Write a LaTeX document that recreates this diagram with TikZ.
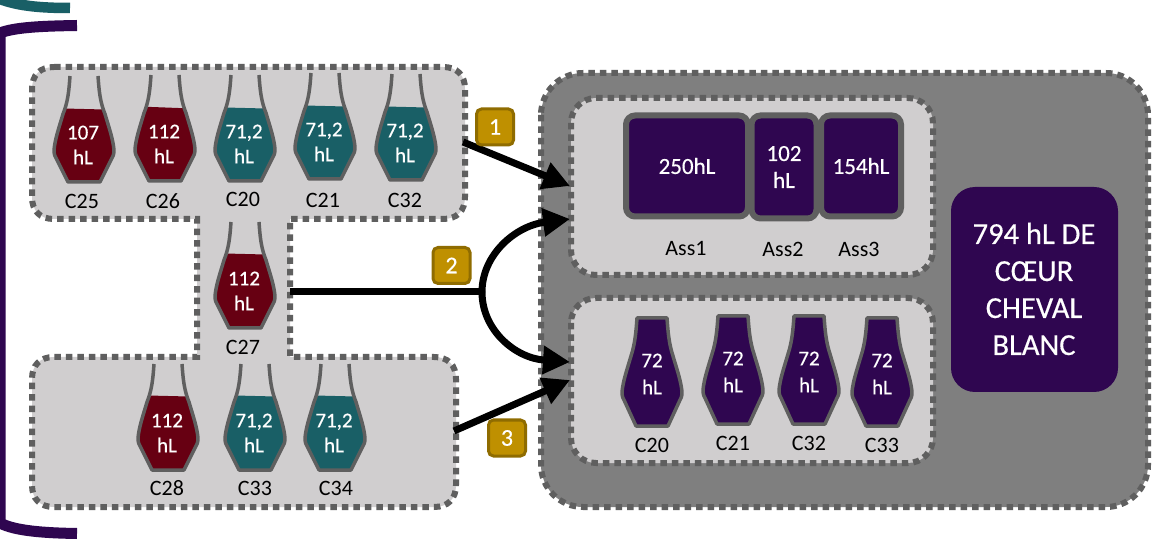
\documentclass[tikz,border=0pt]{standalone}
\usepackage{fontspec}
\setmainfont{Carlito}
\newfontfamily\whitefont[FakeBold=0.4]{Carlito}
\usetikzlibrary{arrows.meta}
\definecolor{wine}{HTML}{670012}
\definecolor{tealw}{HTML}{195F66}
\definecolor{plum}{HTML}{2F0650}
\definecolor{edge}{HTML}{5F5F5F}
\definecolor{panel}{HTML}{D0CECF}
\definecolor{dark}{HTML}{7F7F7F}
\definecolor{gold}{HTML}{BF9000}
\definecolor{goldedge}{HTML}{8F6C00}
\tikzset{
  dotline/.style={draw=edge,line width=6pt,dash pattern=on 6.5pt off 5pt},
  vasetext/.style={text=white,font=\whitefont\fontsize{21}{25}\selectfont,align=center,inner sep=0pt},
  fulltext/.style={text=white,font=\whitefont\fontsize{21}{27}\selectfont,align=center,inner sep=0pt},
  caption/.style={text=black,font=\fontsize{22}{24}\selectfont,inner sep=0pt},
  bigtext/.style={text=white,font=\whitefont\fontsize{30.5}{37}\selectfont,align=center,inner sep=0pt},
  badge/.style={draw=goldedge,fill=gold,line width=3pt,rounded corners=5pt,text=white,
    minimum width=37pt,minimum height=36pt,inner sep=0pt,font=\whitefont\fontsize{24}{26}\selectfont},
  tank/.style={draw=edge,fill=plum,line width=6pt,rounded corners=9pt,text=white,
    inner sep=0pt,align=center,font=\whitefont\fontsize{23}{27}\selectfont},
  bigarrow/.style={line width=7pt,draw=black,-{Triangle[length=27pt,width=27pt]}},
  vesselline/.style={draw=edge,line width=3.5pt,line join=round}
}
\newcommand{\vesselbody}{(-14,0) .. controls (-15,14) and (-16,26) .. (-21,38)
   .. controls (-24.5,50) and (-28,60) .. (-29.5,70) .. controls (-30.5,75) and (-30,79) .. (-28,82)
   -- (-16,106) -- (16,106) -- (28,82) .. controls (30,79) and (30.5,75) .. (29.5,70)
   .. controls (28,60) and (24.5,50) .. (21,38) .. controls (16,26) and (15,14) .. (14,0)}
% open vessel: #1 cx, #2 top y, #3 colour, #4 left level, #5 right level, #6 name, #7 number, #8 caption, #9 caption position
\newcommand{\openvessel}[9]{%
  \begin{scope}[shift={(#1,#2)}]
    \begin{scope}
      \clip (-40,#4) -- (40,#5) -- (40,120) -- (-40,120) -- cycle;
      \fill[#3] \vesselbody -- cycle;
    \end{scope}
    \draw[vesselline] \vesselbody;
    \node[vasetext] (#6t) at (-1,69) {#7\\hL};
  \end{scope}
  \node[caption] (#6c) at (#9) {#8};
}
% closed vessel: #1 cx, #2 top y, #3 name, #4 caption, #5 caption y
\newcommand{\fullvessel}[5]{%
  \begin{scope}[shift={(#1,#2)}]
    \draw[vesselline,fill=plum] (-15,0) -- (15,0) .. controls (16,14) and (17,26) .. (21,38)
      .. controls (24.5,50) and (28,60) .. (29.5,70) .. controls (30.5,75) and (30,79) .. (28,82)
      -- (16,108) -- (-16,108) -- (-28,82) .. controls (-30,79) and (-30.5,75) .. (-29.5,70)
      .. controls (-28,60) and (-24.5,50) .. (-21,38) .. controls (-17,26) and (-16,14) .. (-15,0) -- cycle;
    \node[fulltext] (#3t) at (0,56) {72\\hL};
  \end{scope}
  \node[caption] (#3c) at (#1,#5) {#4};
}
\begin{document}
\begin{tikzpicture}[x=1pt,y=-1pt]
\clip (0,0) rectangle (1152,553);
\fill[white] (0,0) rectangle (1152,553);
% brackets
\draw[tealw,line width=10.5pt] (-5,-3) .. controls (15,6) and (40,8) .. (70,8);
\draw[plum,line width=11pt] (77,25.5) .. controls (45,26) and (15,27) .. (0,33) -- (0,523) .. controls (15,531) and (45,533) .. (77,533.5);
% left panel
\path[dotline,fill=panel] (54,67) -- (443,67) .. controls (457,67) and (465,75) .. (465,89)
  -- (465,197) .. controls (465,211) and (457,219) .. (443,219) -- (290,219) -- (290,357)
  -- (434,357) .. controls (448,357) and (456,365) .. (456,379) -- (456,485)
  .. controls (456,499) and (448,507) .. (434,507) -- (54,507) .. controls (40,507) and (32,499) .. (32,485)
  -- (32,379) .. controls (32,365) and (40,357) .. (54,357) -- (197,357) -- (197,219) -- (54,219)
  .. controls (40,219) and (32,211) .. (32,197) -- (32,89) .. controls (32,75) and (40,67) .. (54,67) -- cycle;
% right panels
\path[dotline,fill=dark,rounded corners=42pt] (541,73) rectangle (1148,507);
\path[dotline,fill=panel,rounded corners=25pt] (571,98) rectangle (933,275);
\path[dotline,fill=panel,rounded corners=25pt] (571,298) rectangle (933,463);
% connection points
\coordinate (out1) at (463,142);
\coordinate (in1) at (570,186);
\coordinate (out2) at (290,292);
\coordinate (fork) at (482,292);
\coordinate (in2a) at (570,219);
\coordinate (in2b) at (570,362);
\coordinate (out3) at (454,431);
\coordinate (in3) at (570,380);
\draw[bigarrow] (out1) -- (in1);
\draw[line width=7pt] (out2) -- (fork);
\draw[bigarrow] (fork) .. controls (482,255) and (515,226) .. (in2a);
\draw[bigarrow] (fork) .. controls (482,330) and (515,358) .. (in2b);
\draw[bigarrow] (out3) -- (in3);
% vessels
\openvessel{84}{76}{wine}{32}{34}{c25}{107}{C25}{82,201}
\openvessel{165}{75}{wine}{31}{34}{c26}{112}{C26}{163,201}
\openvessel{245}{75}{tealw}{32}{34}{c20}{71,2}{C20}{243,199}
\openvessel{325}{73}{tealw}{32}{34}{c21}{71,2}{C21}{323,200}
\openvessel{406}{74}{tealw}{32}{34}{c32}{71,2}{C32}{405,200}
\openvessel{245}{222}{wine}{31}{33}{c27}{112}{C27}{243,347}
\openvessel{168}{364}{wine}{31}{33}{c28}{112}{C28}{167,488}
\openvessel{255}{364}{tealw}{31}{33}{c33}{71,2}{C33}{255,488}
\openvessel{335}{364}{tealw}{31}{33}{c34}{71,2}{C34}{336,488}
\fullvessel{652}{318}{p20}{C20}{445}
\fullvessel{733}{316}{p21}{C21}{443}
\fullvessel{809}{316}{p32}{C32}{443}
\fullvessel{882}{318}{p33}{C33}{445}
% assemblies
\node[tank,minimum width=122pt,minimum height=101pt] (a1) at (687,166) {250hL};
\node[tank,minimum width=65pt,minimum height=103pt] (a2) at (784,167) {102\\hL};
\node[tank,minimum width=80pt,minimum height=101pt] (a3) at (861,166) {154hL};
\node[caption] (a1c) at (686,249) {Ass1};
\node[caption] (a2c) at (783,249) {Ass2};
\node[caption] (a3c) at (859,249) {Ass3};
% total
\node[fill=plum,rounded corners=24pt,minimum width=167pt,minimum height=205pt,inner sep=0pt] (total) at (1034.5,289.5) {};
\node[bigtext] (totalt) at (1034,289) {794 hL DE\\CŒUR\\CHEVAL\\BLANC};
% badges
\node[badge] (b1) at (495,127) {1};
\node[badge] (b2) at (451.5,265.5) {2};
\node[badge] (b3) at (507,438) {3};
\end{tikzpicture}
\end{document}
